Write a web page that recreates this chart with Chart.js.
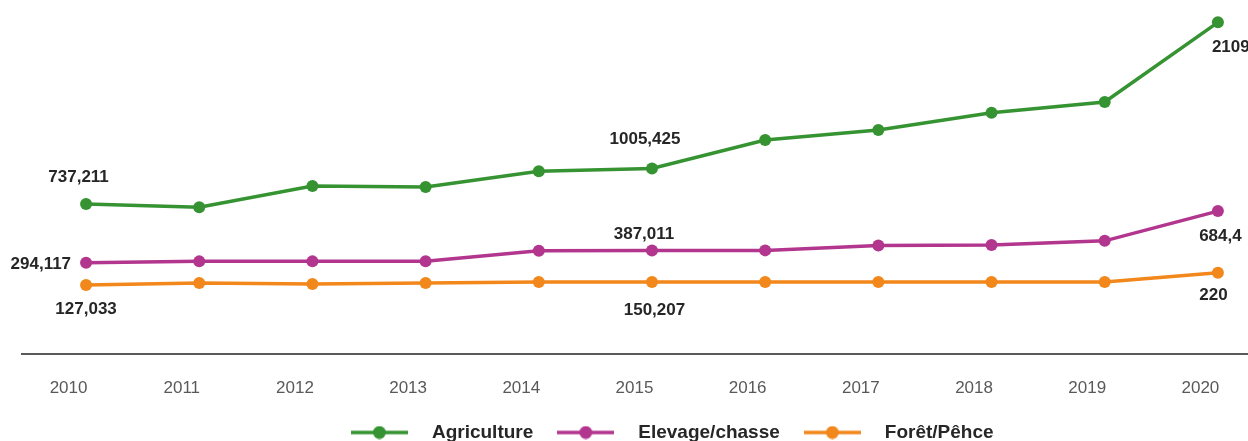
<!DOCTYPE html>
<html>
<head>
<meta charset="utf-8">
<script src="https://cdn.jsdelivr.net/npm/chart.js@4/dist/chart.umd.min.js"></script>
<style>
html, body { margin: 0; padding: 0; background: #ffffff; overflow: hidden; }
#wrap { width: 1308px; height: 452px; }
</style>
</head>
<body>
<div id="wrap"><canvas id="c" width="1308" height="452"></canvas></div>
<script>
// ---- data ----
const years = [2010, 2011, 2012, 2013, 2014, 2015, 2016, 2017, 2018, 2019, 2020];
const agriculture = [737.211, 713, 874, 866, 985, 1005.425, 1221, 1297, 1427, 1508, 2109];
const elevageChasse = [294.117, 305, 305, 306, 385, 387.011, 388, 425, 428, 460, 684.4];
const foretPeche = [127.033, 142, 135, 142, 150, 150.207, 150, 150, 150, 150, 220];
const seriesNames = ['Agriculture', 'Elevage/chasse', 'Forêt/Pêhce'];
const labeledYears = [2010, 2015, 2020];

// ---- style ----
const colors = ['#359332', '#b2358e', '#f2871b'];
const CANVAS_H = 452;
const PLOT_BOTTOM = 354;
// label offsets per dataset, keyed by year: [dx, dy, align]
const labelPlacement = [
  {2010: [-7.5, -27, 'center'], 2015: [-7, -29, 'center'], 2020: [-6, 25, 'left']},
  {2010: [-15, 1, 'right'], 2015: [-8, -16.5, 'center'], 2020: [2.5, 25.5, 'center']},
  {2010: [0, 24.5, 'center'], 2015: [2.5, 28.5, 'center'], 2020: [-4.5, 23, 'center']}
];

function fmt(v) { return String(v).replace('.', ','); }

function makeMarker(color) {
  const c = document.createElement('canvas');
  c.width = 57; c.height = 14;
  const g = c.getContext('2d');
  g.strokeStyle = color; g.lineWidth = 3.5;
  g.beginPath(); g.moveTo(0, 7); g.lineTo(57, 7); g.stroke();
  g.fillStyle = color;
  g.beginPath(); g.arc(28.5, 7, 6.5, 0, Math.PI * 2); g.fill();
  return c;
}
const markers = colors.map(makeMarker);

const seriesValues = [agriculture, elevageChasse, foretPeche];
const datasets = seriesValues.map((vals, i) => ({
  label: seriesNames[i],
  data: years.map((y, k) => ({x: y, y: vals[k]})),
  borderColor: colors[i],
  backgroundColor: colors[i],
  pointBackgroundColor: colors[i],
  pointBorderWidth: 0,
  pointRadius: 6,
  borderWidth: 3.5,
  tension: 0,
  clip: false
}));

const valueLabels = {
  id: 'valueLabels',
  afterDatasetsDraw(chart) {
    const ctx = chart.ctx;
    ctx.save();
    ctx.font = 'bold 17px "Liberation Sans", Arial, sans-serif';
    ctx.fillStyle = '#262626';
    ctx.textBaseline = 'middle';
    chart.data.datasets.forEach((ds, di) => {
      const meta = chart.getDatasetMeta(di);
      labeledYears.forEach(yr => {
        const idx = years.indexOf(yr);
        const el = meta.data[idx];
        const p = labelPlacement[di][yr];
        ctx.textAlign = p[2];
        ctx.fillText(fmt(seriesValues[di][idx]), el.x + p[0], el.y + p[1]);
      });
    });
    ctx.restore();
  }
};

new Chart(document.getElementById('c'), {
  type: 'line',
  data: { datasets },
  options: {
    responsive: false,
    animation: false,
    devicePixelRatio: 1,
    layout: { padding: { left: 22, right: 0, top: 10, bottom: 0 } },
    plugins: {
      tooltip: { enabled: false },
      legend: {
        position: 'bottom',
        align: 'center',
        labels: {
          usePointStyle: true,
          pointStyleWidth: 86,
          padding: 9.5,
          color: '#262626',
          font: { family: '"Liberation Sans", Arial, sans-serif', size: 19, weight: 'bold' },
          generateLabels(chart) {
            const items = Chart.defaults.plugins.legend.labels.generateLabels(chart);
            items.forEach(it => { it.pointStyle = markers[it.datasetIndex]; });
            return items;
          }
        }
      }
    },
    scales: {
      x: {
        type: 'linear',
        min: 2009.434,
        max: 2020.743,
        grid: { display: false, drawTicks: false },
        border: { display: true, color: '#5a5a5a', width: 2 },
        afterBuildTicks(s) { s.ticks = years.map(v => ({ value: v })); },
        afterFit(s) { s.height = CANVAS_H - s.chart.legend.height - PLOT_BOTTOM; },
        ticks: {
          autoSkip: false,
          maxRotation: 0,
          padding: 24,
          labelOffset: -17.5,
          color: '#595959',
          font: { family: '"Liberation Sans", Arial, sans-serif', size: 17 },
          callback: v => String(v)
        }
      },
      y: {
        display: false,
        min: -394,
        max: 2202
      }
    }
  },
  plugins: [valueLabels]
});
</script>
</body>
</html>
